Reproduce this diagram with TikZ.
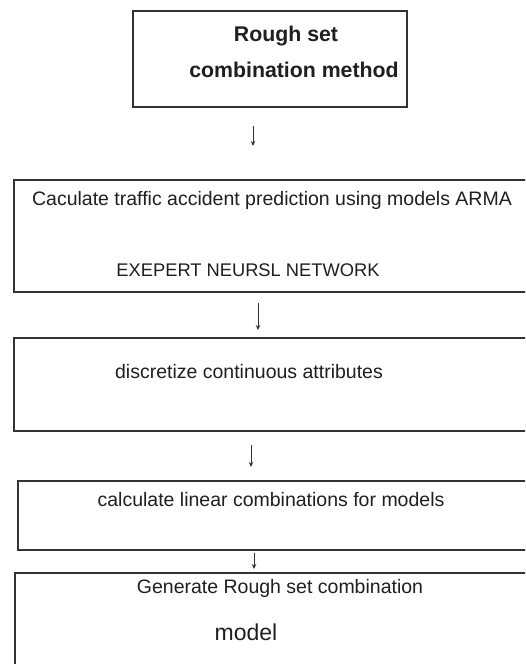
\documentclass[tikz,border=0pt]{standalone}
\usepackage{fontspec}
\setmainfont{Liberation Sans}
\usetikzlibrary{arrows.meta}
\begin{document}
\begin{tikzpicture}[x=1pt,y=-1pt,
  box/.style={draw=black!80,line width=1.7pt,rectangle,inner sep=0pt},
  lbl/.style={inner sep=0pt,anchor=center,text=black!88},
  body/.style={lbl,font=\fontsize{19.5}{22}\selectfont},
  head/.style={lbl,font=\fontsize{21.3}{24}\selectfont\bfseries},
  arr/.style={draw=black!80,line width=1pt,-{Stealth[length=5pt,width=4.5pt]}}]
\clip (0,0) rectangle (525,664);
\fill[white] (0,0) rectangle (525,664);
% boxes
\node[box,minimum width=274pt,minimum height=96pt,anchor=north west] (b1) at (132,10) {};
\node[box,minimum width=530pt,minimum height=112pt,anchor=north west] (b2) at (13,179) {};
\node[box,minimum width=530pt,minimum height=93pt,anchor=north west] (b3) at (13,337) {};
\node[box,minimum width=530pt,minimum height=69pt,anchor=north west] (b4) at (17,480) {};
\node[box,minimum width=530pt,minimum height=110pt,anchor=north west] (b5) at (14,572) {};
% texts
\node[head] (t1a) at (286,36) {Rough set};
\node[head] (t1b) at (294,70) {combination method};
\node[body] (t2a) at (272,200) {Caculate traffic accident prediction using models ARMA};
\node[body,font=\fontsize{18.3}{22}\selectfont] (t2b) at (248,270) {EXEPERT NEURSL NETWORK};
\node[body] (t3) at (249,372) {discretize continuous attributes};
\node[body] (t4) at (271,500) {calculate linear combinations for models};
\node[body] (t5a) at (280,588) {Generate Rough set combination};
\node[body,font=\fontsize{23}{26}\selectfont] (t5b) at (246,632) {model};
% arrows
\coordinate (a1s) at (253,126); \coordinate (a1e) at (253,146);
\coordinate (a2s) at (258,303); \coordinate (a2e) at (258,330);
\coordinate (a3s) at (251,445); \coordinate (a3e) at (251,467);
\coordinate (a4s) at (254,553); \coordinate (a4e) at (254,569);
\draw[arr] (a1s) -- (a1e);
\draw[arr] (a2s) -- (a2e);
\draw[arr] (a3s) -- (a3e);
\draw[arr] (a4s) -- (a4e);
\end{tikzpicture}
\end{document}
